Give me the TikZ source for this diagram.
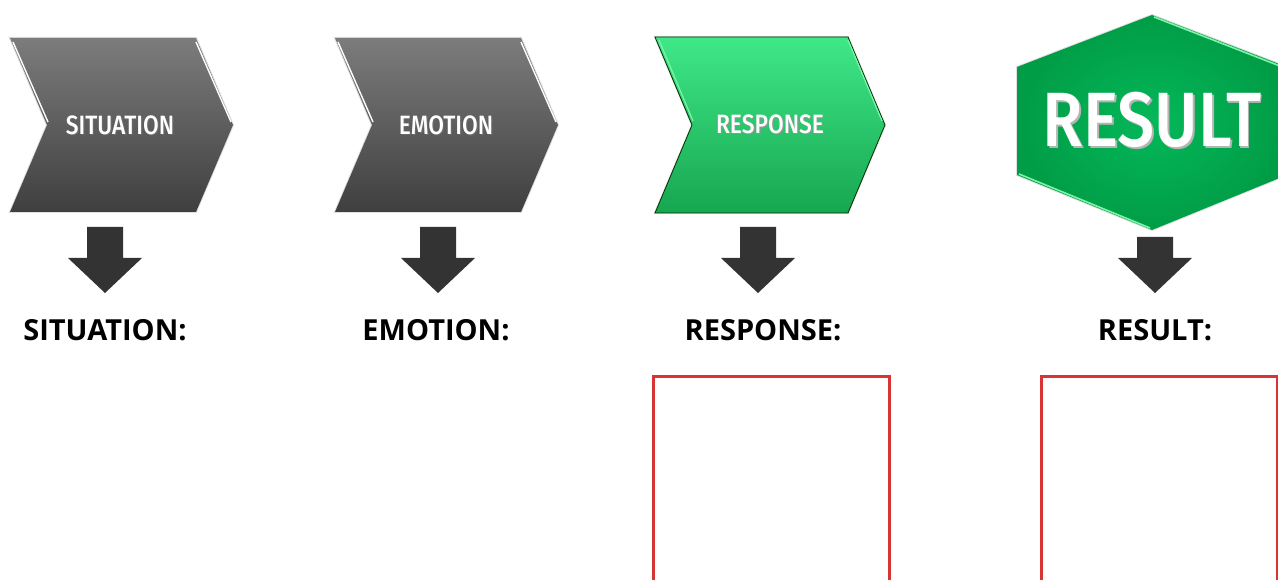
\documentclass[tikz,border=0pt]{standalone}
\usepackage{fontspec}
\setmainfont{Open Sans}
\IfFontExistsTF{Fira Sans Medium}
  {\newfontfamily\condfont[FakeStretch=0.86]{Fira Sans Medium}}
  {\newfontfamily\condfont[FakeStretch=0.86,FakeBold=1.2]{Fira Sans}}
\newfontfamily\labelfont{Open Sans}
\definecolor{arrowgray}{HTML}{333333}
\definecolor{chevtop}{HTML}{7C7C7C}
\definecolor{chevbot}{HTML}{3F3F3F}
\definecolor{greentop}{HTML}{3FE888}
\definecolor{greenbot}{HTML}{17A650}
\definecolor{hexin}{HTML}{04B85A}
\definecolor{hexout}{HTML}{009C46}
\definecolor{hilite}{HTML}{7CF5A8}
\definecolor{boxred}{HTML}{D93434}
\definecolor{txtshadow}{HTML}{2A2A2A}
\newcommand{\shtext}[3]{\makebox[0pt][l]{\hspace{#1}\raisebox{-#1}{\color{txtshadow!#2}#3}}#3}
\begin{document}
\begin{tikzpicture}[x=1pt,y=-1pt,
  chevtext/.style={text=white,font=\condfont\fontsize{26.5}{26.5}\selectfont},
  lbl/.style={font=\labelfont\bfseries\fontsize{29}{29}\selectfont,text=black},
  arrowshape/.style={fill=arrowgray},
  redbox/.style={draw=boxred,line width=3pt},
  glow/.style={draw=black!12,line width=2pt}
]
\useasboundingbox (0,0) rectangle (1278,580);
\clip (0,0) rectangle (1278,580);

% --- chevron 1 (SITUATION)
\draw[glow] (10,38)--(196,38)--(233,125)--(196,212)--(10,212)--(47,125)--cycle;
\shade[top color=chevtop,bottom color=chevbot] (10,38)--(196,38)--(233,125)--(196,212)--(10,212)--(47,125)--cycle;
\draw[white,line width=1.4pt] (13,42)--(48,122);
\draw[white,line width=1.4pt] (196,42)--(231,122);
\node[chevtext] (t1) at (120,126) {\shtext{1.2pt}{70}{SITUATION}};

% --- chevron 2 (EMOTION)
\draw[glow] (335,38)--(521,38)--(558,125)--(521,212)--(335,212)--(372,125)--cycle;
\shade[top color=chevtop,bottom color=chevbot] (335,38)--(521,38)--(558,125)--(521,212)--(335,212)--(372,125)--cycle;
\draw[white,line width=1.4pt] (338,42)--(373,122);
\draw[white,line width=1.4pt] (521,42)--(556,122);
\node[chevtext] (t2) at (446,126) {\shtext{1.2pt}{70}{EMOTION}};

% --- chevron 3 (RESPONSE)
\draw[glow] (655,37)--(848,37)--(885,125)--(848,213)--(655,213)--(692,125)--cycle;
\shade[top color=greentop,bottom color=greenbot,draw=black!55!green!40!black,line width=0.8pt] (655,37)--(848,37)--(885,125)--(848,213)--(655,213)--(692,125)--cycle;
\draw[hilite,line width=1.2pt] (659,40)--(693,121);
\draw[hilite,line width=1.2pt] (848,40)--(882,121);
\node[chevtext] (t3) at (770,125) {\shtext{1.2pt}{50}{RESPONSE}};

% --- hexagon (RESULT)
\draw[glow] (1152,15)--(1287,67)--(1287,175)--(1152,230)--(1017,175)--(1017,67)--cycle;
\shade[inner color=hexin,outer color=hexout] (1152,15)--(1287,67)--(1287,175)--(1152,230)--(1017,175)--(1017,67)--cycle;
\draw[hilite,line width=1.6pt] (1154,17)--(1285,68);
\draw[hilite,line width=1.6pt] (1019,174)--(1150,228);
\node[text=white,font=\condfont\fontsize{77}{77}\selectfont] (t4) at (1152,121) {\shtext{1.8pt}{35}{RESULT}};

% --- down arrows
\foreach \cx/\top/\nm in {105/227/a1, 438/227/a2, 758/227/a3, 1155/237/a4}{
  \coordinate (\nm) at (\cx,\top);
  \fill[arrowshape] ([xshift=-18pt]\nm) -- ([xshift=18pt]\nm) -- ([xshift=18pt,yshift={-(258-\top)*1pt}]\nm)
     -- ([xshift=37pt,yshift={-(258-\top)*1pt}]\nm) -- ([yshift={-(293-\top)*1pt}]\nm)
     -- ([xshift=-37pt,yshift={-(258-\top)*1pt}]\nm) -- ([xshift=-18pt,yshift={-(258-\top)*1pt}]\nm) -- cycle;
}

% --- labels
\node[lbl] (l1) at (105,330) {SITUATION:};
\node[lbl] (l2) at (436,330) {EMOTION:};
\node[lbl] (l3) at (763,330) {RESPONSE:};
\node[lbl] (l4) at (1155,330) {RESULT:};

% --- red boxes
\draw[redbox] (653.5,376.5) rectangle (889.5,600);
\draw[redbox] (1041.5,376.5) rectangle (1277,600);
\end{tikzpicture}
\end{document}
